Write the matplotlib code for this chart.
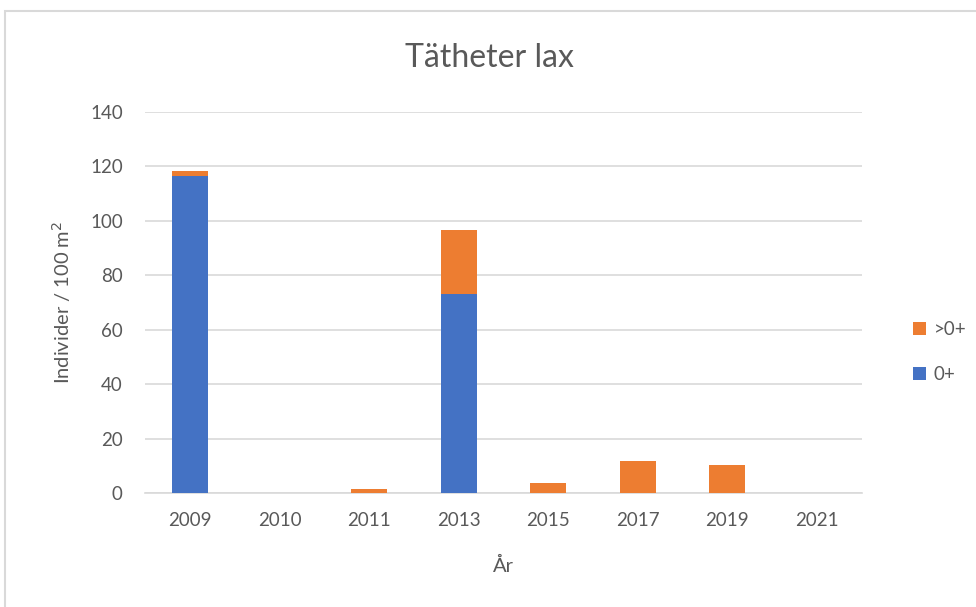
import numpy as np
import matplotlib.pyplot as plt
from matplotlib.patches import Rectangle

plt.rcParams['font.family'] = ['Lato', 'DejaVu Sans']

# data
years = ['2009', '2010', '2011', '2013', '2015', '2017', '2019', '2021']
age0 = [116.5, 0, 0, 73.3, 0, 0, 0, 0]
older = [1.9, 0, 1.5, 23.5, 3.5, 11.8, 10.3, 0]

blue = '#4472c4'
orange = '#ed7d31'
txt = '#595959'

fig = plt.figure(figsize=(9.76, 6.07), dpi=100)
ax = fig.add_axes([0.1486, 0.1878, 0.7344, 0.6277])

x = np.arange(len(years))
b1 = ax.bar(x, age0, width=0.4, color=blue, zorder=3, label='0+')
b2 = ax.bar(x, older, width=0.4, bottom=age0, color=orange, zorder=3, label='>0+')

ax.set_xlim(-0.5, len(years) - 0.5)
ax.set_ylim(0, 140)
ax.set_yticks(range(0, 141, 20))
ax.set_xticks(x)
ax.set_xticklabels(years)
ax.yaxis.grid(True, color='#d9d9d9', linewidth=1.2, zorder=0)
for s in ['top', 'right', 'left']:
    ax.spines[s].set_visible(False)
ax.spines['bottom'].set_color('#d9d9d9')
ax.spines['bottom'].set_linewidth(1.2)
ax.tick_params(length=0, labelsize=13.5, colors=txt)
ax.tick_params(axis='x', pad=14)
ax.tick_params(axis='y', pad=16)

ax.set_ylabel('Individer / 100 m$^2$', fontsize=14.5, color=txt, labelpad=12)
ax.set_xlabel('År', fontsize=14.5, color=txt, labelpad=20)
fig.text(0.5015, 0.904, 'Tätheter lax', ha='center', va='center', fontsize=23, color=txt)

leg = fig.legend([b2, b1], ['>0+', '0+'], loc='center left', bbox_to_anchor=(0.918, 0.42),
                 frameon=False, fontsize=13.5, labelspacing=1.5, handlelength=0.7,
                 handleheight=0.7, handletextpad=0.4)
for t in leg.get_texts():
    t.set_color(txt)

fig.patches.append(Rectangle((0.005, -0.01), 1.1, 0.9915, transform=fig.transFigure,
                             fill=False, edgecolor='#d9d9d9', linewidth=1.5))

fig.savefig('out.png', dpi=100)
